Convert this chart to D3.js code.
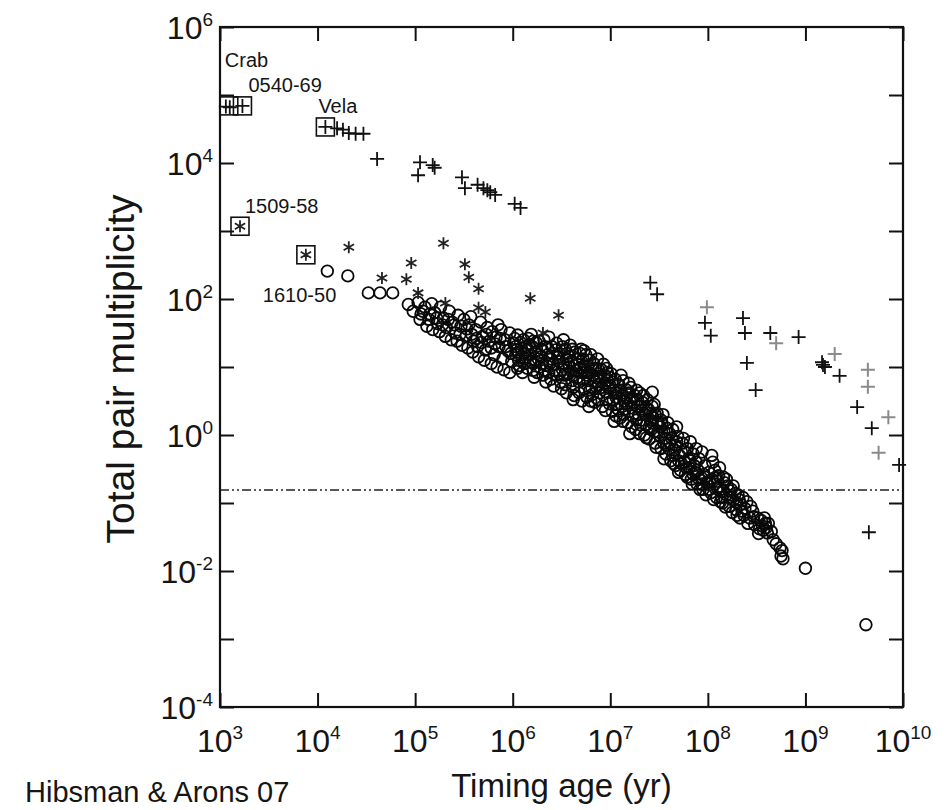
<!DOCTYPE html>
<html><head><meta charset="utf-8">
<script src="https://cdn.jsdelivr.net/npm/d3@7"></script>
<style>
body{margin:0;background:#fff}
text{font-family:"Liberation Sans",Arial,Helvetica,sans-serif;fill:#151515}
</style>
</head><body>
<svg id="chart" width="944" height="810"></svg>
<script>
// ---- data: [log10(timing age / yr), log10(total pair multiplicity)] ----
const xTickExps = [3,4,5,6,7,8,9,10];
const yTickExps = [-4,-3,-2,-1,0,1,2,3,4,5,6];
const yLabelExps = [-4,-2,0,2,4,6];
const deathLineValue = 0.155;

const plusPts = [
 [3.10,4.82],[3.06,4.83],[3.23,4.84],[4.08,4.53],[4.20,4.51],[4.26,4.49],[4.32,4.44],[4.39,4.43],[4.47,4.43],
 [4.61,4.06],[5.05,4.01],[5.03,3.82],[5.18,3.97],[5.20,3.93],[5.48,3.79],[5.51,3.63],[5.64,3.68],
 [5.70,3.63],[5.74,3.60],[5.77,3.57],[5.82,3.53],[6.02,3.40],[6.08,3.34],
 [7.41,2.24],[7.48,2.07],[7.97,1.65],[8.03,1.46],[8.36,1.72],[8.38,1.50],[8.40,1.06],[8.49,0.66],
 [8.64,1.50],[8.93,1.44],[9.17,1.07],[9.20,1.00],[9.18,1.03],[9.35,0.87],[9.53,0.41],[9.68,0.10],
 [9.96,-0.44],[9.65,-1.43]
];
const plusGreyPts = [
 [7.99,1.88],[8.70,1.35],[9.30,1.19],[9.64,0.96],[9.64,0.71],[9.85,0.26],[9.75,-0.26]
];
const asteriskPts = [
 [3.205,3.07],[3.88,2.65],[4.32,2.76],[4.66,2.31],[4.91,2.29],[4.96,2.53],[5.03,2.09],[5.29,2.82],
 [5.51,2.51],[5.55,2.32],[5.65,2.15],[5.65,1.87],[5.72,1.81],[5.31,1.94],[6.18,2.01],[6.47,1.76],[6.31,1.50]
];
const circlePts = [
 [4.10,2.41],[4.31,2.34],[4.52,2.09],[4.64,2.09],[4.77,2.09],
 [4.93,1.92],[4.98,1.82],[5.03,1.95],[5.06,1.78],[5.10,1.88],[5.14,1.70],[5.17,1.93],[5.20,1.80],[5.23,1.64],
 [5.26,1.88],[5.29,1.72],[5.32,1.58],[5.35,1.82],[5.38,1.66],[5.41,1.50],[5.44,1.76],[5.47,1.60],[5.50,1.70],
 [5.52,1.45],[5.55,1.62],[5.57,1.74],[5.60,1.38],[5.62,1.55],[5.64,1.30],[5.67,1.66],[5.69,1.45],[5.72,1.25],
 [5.74,1.58],[5.76,1.38],[5.79,1.52],[5.81,1.18],[5.83,1.44],[5.86,1.30],[5.88,1.55],[5.90,1.12],[5.92,1.40],
 [5.95,1.24],[5.97,1.50],[5.99,1.08],[5.85,1.62],
 [6.01,1.35],[6.03,1.18],[6.05,1.47],[6.07,1.02],[6.09,1.28],[6.11,1.40],[6.13,1.12],[6.15,0.98],[6.17,1.33],
 [6.19,1.48],[6.21,1.05],[6.23,1.22],[6.25,0.92],[6.27,1.38],[6.29,1.15],[6.31,0.88],[6.33,1.30],[6.35,1.02],
 [6.37,1.44],[6.39,0.82],[6.41,1.20],[6.43,0.95],[6.45,1.35],[6.47,1.08],[6.49,0.78],[6.04,1.25],[6.12,1.20],
 [6.20,1.30],[6.28,1.00],[6.36,1.18],[6.44,1.25],[6.48,0.90],
 [6.51,1.30],[6.52,1.05],[6.54,0.74],[6.56,1.20],[6.57,0.90],[6.59,1.32],[6.60,1.08],[6.62,0.70],[6.64,1.22],
 [6.65,0.95],[6.67,1.12],[6.68,0.62],[6.70,1.26],[6.72,0.82],[6.73,1.02],[6.75,1.18],[6.76,0.56],[6.78,0.92],
 [6.79,1.10],[6.81,0.70],[6.83,1.05],[6.84,0.48],[6.86,0.84],[6.87,1.12],[6.89,0.62],[6.91,0.96],[6.92,0.42],
 [6.94,0.76],[6.96,0.98],[6.97,0.52],[6.99,0.85],[6.53,0.88],[6.61,0.80],[6.69,0.98],[6.74,0.68],[6.82,0.88],
 [6.88,0.74],[6.95,0.64],[6.58,1.15],[6.77,1.00],
 [7.01,0.90],[7.02,0.35],[7.04,0.66],[7.05,0.82],[7.07,0.45],[7.09,0.74],[7.10,0.25],[7.12,0.58],[7.13,0.80],
 [7.15,0.38],[7.17,0.66],[7.18,0.18],[7.20,0.50],[7.21,0.70],[7.23,0.28],[7.25,0.58],[7.26,0.08],[7.28,0.42],
 [7.30,0.62],[7.31,0.15],[7.33,0.48],[7.35,0.00],[7.36,0.30],[7.38,0.52],[7.40,-0.06],[7.41,0.22],[7.43,0.42],
 [7.45,0.05],[7.46,-0.12],[7.48,0.32],[7.06,0.55],[7.14,0.50],[7.22,0.40],[7.29,0.30],[7.37,0.15],[7.44,0.25],
 [7.43,0.63],
 [7.51,0.12],[7.52,-0.20],[7.54,0.30],[7.56,-0.05],[7.57,-0.28],[7.59,0.18],[7.61,-0.12],[7.62,-0.38],[7.64,0.08],
 [7.66,-0.22],[7.67,-0.45],[7.69,-0.02],[7.71,-0.30],[7.72,-0.52],[7.74,-0.12],[7.76,-0.40],[7.77,-0.58],[7.79,-0.20],
 [7.81,-0.48],[7.83,-0.65],[7.85,-0.28],[7.87,-0.55],[7.89,-0.72],[7.91,-0.35],[7.93,-0.62],[7.95,-0.80],[7.97,-0.45],
 [7.99,-0.70],[7.55,0.05],[7.68,-0.10],
 [8.01,-0.55],[8.03,-0.85],[8.05,-0.40],[8.07,-0.72],[8.09,-0.92],[8.11,-0.60],[8.13,-0.80],[8.15,-1.00],[8.17,-0.70],
 [8.19,-0.88],[8.22,-1.05],[8.24,-0.80],[8.26,-0.96],[8.29,-1.10],[8.31,-0.88],[8.34,-1.02],[8.37,-1.18],[8.40,-0.98],
 [8.43,-1.22],[8.46,-1.12],[8.48,-1.32],[8.32,-0.95],
 [8.51,-1.22],[8.53,-1.38],[8.55,-1.26],[8.57,-1.40],[8.59,-1.30],[8.61,-1.44],[8.67,-1.54],[8.74,-1.66],[8.76,-1.70],
 [8.77,-1.82],[8.75,-1.78],[9.00,-1.96],[9.62,-2.79],
 [5.05,1.70],[5.12,1.60],[5.18,1.55],[5.25,1.52],[5.31,1.45],[5.37,1.40],[5.43,1.38],[5.48,1.32],[5.54,1.28],
 [5.59,1.22],[5.65,1.15],[5.71,1.10],[5.78,1.05],[5.84,1.00],[5.91,0.96],[5.97,0.92],
 [5.08,1.82],[5.15,1.78],[5.22,1.72],[5.28,1.62],[5.34,1.70],[5.40,1.62],[5.46,1.48],[5.53,1.56],[5.58,1.48],
 [5.63,1.42],[5.68,1.36],[5.73,1.48],[5.78,1.28],[5.82,1.34],[5.87,1.42],[5.93,1.30],[5.98,1.20],
 [6.02,1.42],[6.06,1.10],[6.10,0.92],[6.14,1.30],[6.18,1.08],[6.22,0.85],[6.26,1.12],[6.30,1.26],[6.34,0.78],
 [6.38,1.05],[6.42,0.72],[6.46,1.14],[6.50,0.68],[6.08,1.36],[6.16,1.42],[6.24,1.36],[6.32,1.40],[6.40,1.30],
 [6.05,0.98],[6.21,0.95],[6.37,0.92],
 [6.52,1.40],[6.55,0.62],[6.58,1.00],[6.61,1.26],[6.63,0.58],[6.66,0.84],[6.69,1.20],[6.71,0.50],[6.74,0.92],
 [6.77,0.80],[6.80,1.18],[6.82,0.60],[6.85,0.98],[6.88,0.52],[6.90,0.86],[6.93,1.04],[6.95,0.36],[6.98,0.70],
 [6.55,1.12],[6.63,1.02],[6.72,1.12],[6.80,0.50],[6.86,0.70],[6.97,0.92],
 [7.00,0.72],[7.03,0.52],[7.06,0.28],[7.08,0.62],[7.11,0.88],[7.14,0.30],[7.16,0.55],[7.19,0.76],[7.22,0.12],
 [7.24,0.48],[7.27,0.66],[7.30,0.02],[7.32,0.36],[7.34,0.58],[7.37,-0.04],[7.39,0.38],[7.42,0.08],[7.45,0.45],
 [7.47,-0.18],[7.49,0.18],[7.12,0.42],[7.27,0.22],[7.41,0.32],
 [7.50,0.00],[7.53,0.18],[7.55,-0.35],[7.58,0.10],[7.60,-0.20],[7.63,-0.05],[7.65,-0.42],[7.68,0.12],[7.70,-0.55],
 [7.73,-0.25],[7.75,-0.05],[7.78,-0.48],[7.80,-0.35],[7.82,-0.10],[7.84,-0.72],[7.86,-0.45],[7.88,-0.20],[7.90,-0.52],
 [7.92,-0.80],[7.94,-0.25],[7.96,-0.58],[7.98,-0.88],
 [8.02,-0.68],[8.04,-0.30],[8.06,-0.95],[8.08,-0.62],[8.10,-0.78],[8.12,-0.48],[8.14,-0.92],[8.16,-0.62],[8.18,-1.06],
 [8.20,-0.75],[8.23,-0.92],[8.25,-1.14],[8.28,-0.86],[8.30,-1.00],[8.33,-1.22],[8.36,-0.92],[8.38,-1.08],[8.41,-1.30],
 [8.44,-1.05],[8.47,-1.20],
 [8.52,-1.45],[8.56,-1.34],[8.58,-1.22],[8.60,-1.36],[8.62,-1.30],[8.65,-1.42],[8.70,-1.60],
 [6.03,1.30],[6.06,1.22],[6.09,1.15],[6.12,1.05],[6.15,1.25],[6.18,1.18],[6.21,1.38],[6.24,1.08],[6.27,1.18],
 [6.30,1.05],[6.33,0.95],[6.36,1.28],[6.39,1.12],[6.42,1.04],[6.45,0.88],[6.48,1.20],
 [6.51,0.96],[6.54,1.26],[6.57,1.05],[6.60,0.94],[6.63,0.88],[6.66,1.04],[6.68,0.78],[6.71,0.92],[6.73,1.24],
 [6.76,0.88],[6.79,0.66],[6.82,0.98],[6.85,0.78],[6.88,0.96],[6.91,0.70],[6.94,0.88],[6.97,0.80],[6.99,0.46],
 [6.62,0.52],[6.78,0.42],
 [7.02,0.78],[7.05,0.62],[7.08,0.38],[7.11,0.66],[7.13,0.20],[7.16,0.46],[7.19,0.62],[7.22,0.55],[7.25,0.32],
 [7.28,0.52],[7.31,0.42],[7.34,0.22],[7.37,0.40],[7.40,0.12],[7.43,0.18],[7.46,0.30],[7.49,0.05],[7.04,0.20],[7.20,0.02],
 [7.52,0.22],[7.55,-0.12],[7.58,-0.15],[7.61,0.02],[7.64,-0.30],[7.67,-0.15],[7.70,-0.38],[7.73,-0.42],[7.76,-0.25],
 [7.79,-0.62],[7.82,-0.38],[7.85,-0.58],[7.88,-0.40],[7.91,-0.65],[7.94,-0.72],[7.97,-0.62],
 [8.01,-0.80],[8.04,-0.65],[8.07,-0.52],[8.10,-0.68],[8.13,-0.98],[8.16,-0.82],[8.19,-0.65],[8.22,-0.82],[8.26,-0.75],
 [8.30,-1.18],[8.35,-1.12]
];
const annotations = [
 {name:"Crab",    pt:[3.09,4.84], dx:-4,  dy:-39},
 {name:"0540-69", pt:[3.23,4.84], dx:6,   dy:-14},
 {name:"Vela",    pt:[4.08,4.53], dx:-7,  dy:-14},
 {name:"1509-58", pt:[3.205,3.07],dx:5,   dy:-13},
 {name:"1610-50", pt:[3.88,2.65], dx:-43, dy:47}
];
const xTitle = "Timing age (yr)";
const yTitle = "Total pair multiplicity";
const credit = "Hibsman & Arons 07";

// ---- drawing ----
const W = 944, H = 810;
const m = {left:220, right:41, top:27, bottom:103};
const svg = d3.select("#chart");
const x = d3.scaleLog().domain([1e3,1e10]).range([m.left, W-m.right]);
const y = d3.scaleLog().domain([1e-4,1e6]).range([H-m.bottom, m.top]);
const px = d => x(Math.pow(10,d[0]));
const py = d => y(Math.pow(10,d[1]));
const tick = 14;

const xVals = xTickExps.map(e=>Math.pow(10,e));
const yVals = yTickExps.map(e=>Math.pow(10,e));

function styleAxis(g){ g.select(".domain").remove(); g.selectAll("line").attr("stroke","#111").attr("stroke-width",2); g.selectAll("text").remove(); }
svg.append("g").attr("transform",`translate(0,${H-m.bottom})`).call(d3.axisBottom(x).tickValues(xVals).tickSize(-tick)).call(styleAxis);
svg.append("g").attr("transform",`translate(0,${m.top})`).call(d3.axisTop(x).tickValues(xVals).tickSize(-tick)).call(styleAxis);
svg.append("g").attr("transform",`translate(${m.left},0)`).call(d3.axisLeft(y).tickValues(yVals).tickSize(-tick)).call(styleAxis);
svg.append("g").attr("transform",`translate(${W-m.right},0)`).call(d3.axisRight(y).tickValues(yVals).tickSize(-tick)).call(styleAxis);

// death line
svg.append("line").attr("x1",m.left).attr("x2",W-m.right)
  .attr("y1",y(deathLineValue)).attr("y2",y(deathLineValue))
  .attr("stroke","#222").attr("stroke-width",1.5).attr("stroke-dasharray","9,3,2,3,2,3");

// frame
svg.append("rect").attr("x",m.left).attr("y",m.top).attr("width",W-m.left-m.right).attr("height",H-m.top-m.bottom)
  .attr("fill","none").attr("stroke","#111").attr("stroke-width",2.2);

// tick labels
const xl = svg.append("g");
xTickExps.forEach(e=>{
  const t = xl.append("text").attr("x",x(Math.pow(10,e))).attr("y",752).attr("text-anchor","middle").attr("font-size",32);
  t.append("tspan").text("10");
  t.append("tspan").attr("font-size",19).attr("dy",-13).text(String(e));
});
const yl = svg.append("g");
yLabelExps.forEach(e=>{
  const t = yl.append("text").attr("x",213).attr("y",y(Math.pow(10,e))+12).attr("text-anchor","end").attr("font-size",32);
  t.append("tspan").text("10");
  t.append("tspan").attr("font-size",19).attr("dy",-13).text(e<0?"-"+Math.abs(e):String(e));
});

// titles
svg.append("text").attr("x",(m.left+W-m.right)/2).attr("y",797).attr("text-anchor","middle").attr("font-size",33).text(xTitle);
svg.append("text").attr("transform",`translate(134,${(m.top+H-m.bottom)/2+2}) rotate(-90)`).attr("text-anchor","middle").attr("font-size",39).text(yTitle);
svg.append("text").attr("x",25).attr("y",802).attr("font-size",29).text(credit);

// markers
svg.append("g").selectAll("circle").data(circlePts).join("circle")
  .attr("cx",px).attr("cy",py).attr("r",5.8).attr("fill","none").attr("stroke","#0a0a0a").attr("stroke-width",1.8);
const plusPath = "M-7,0H7M0,-7V7";
svg.append("g").selectAll("path").data(plusGreyPts).join("path")
  .attr("d",plusPath).attr("transform",d=>`translate(${px(d)},${py(d)})`).attr("stroke","#8a8a8a").attr("stroke-width",2);
svg.append("g").selectAll("path").data(plusPts).join("path")
  .attr("d",plusPath).attr("transform",d=>`translate(${px(d)},${py(d)})`).attr("stroke","#111").attr("stroke-width",1.8);
const starPath = "M0,-6V6M-5.2,-3L5.2,3M-5.2,3L5.2,-3";
svg.append("g").selectAll("path").data(asteriskPts).join("path")
  .attr("d",starPath).attr("transform",d=>`translate(${px(d)},${py(d)})`).attr("stroke","#222").attr("stroke-width",1.8);

// annotations (boxed highlighted pulsars)
const ag = svg.append("g");
annotations.forEach(a=>{
  const cx = px(a.pt), cy = py(a.pt);
  ag.append("rect").attr("x",cx-9).attr("y",cy-9).attr("width",18).attr("height",18)
    .attr("fill","none").attr("stroke","#111").attr("stroke-width",1.6);
  ag.append("text").attr("x",cx+a.dx).attr("y",cy+a.dy).attr("font-size",20).text(a.name);
});
</script>
</body></html>
